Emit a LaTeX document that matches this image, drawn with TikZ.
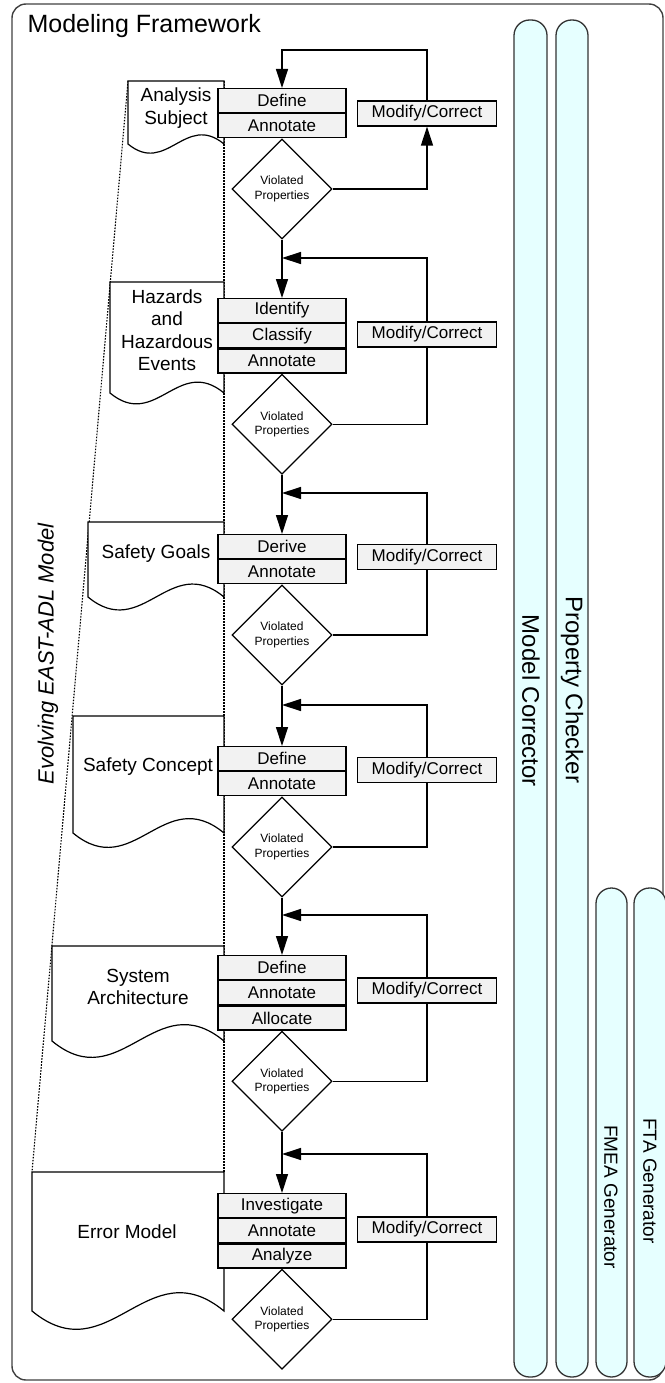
\documentclass[tikz,border=0pt]{standalone}
\usepackage{fontspec}
\setmainfont{Liberation Sans}
\usetikzlibrary{shapes.geometric,arrows.meta,calc}
\definecolor{boxfill}{HTML}{F2F2F2}
\definecolor{capfill}{HTML}{E6FFFF}
\definecolor{capline}{HTML}{333333}
\definecolor{frameline}{HTML}{404040}
\newcommand{\evdoc}[3]{%
  \pgfmathsetmacro\dw{224-#1}%
  \pgfmathsetmacro\dc{0.33*\dw}%
  \pgfmathsetmacro\dxa{#1+0.6*\dw}%
  \pgfmathsetmacro\dxb{#1+0.4*\dw}%
  \filldraw[docline] (#1,#2) -- (224,#2) -- (224,#3) .. controls (\dxa,#3-\dc) and (\dxb,#3+\dc) .. (#1,#3) -- cycle;}
\begin{document}
\begin{tikzpicture}[x=1pt,y=-1pt,
  flow/.style={line width=1.3pt, draw=black},
  arr/.style={flow, -{Triangle[length=19pt,width=12pt]}},
  stepbox/.style={draw, line width=1.2pt, fill=boxfill, minimum width=128pt, minimum height=24pt, inner sep=0pt, font=\fontsize{17}{20}\selectfont},
  modbox/.style={draw, line width=1.2pt, fill=boxfill, minimum width=139pt, minimum height=25pt, inner sep=0pt, font=\fontsize{17}{20}\selectfont},
  decision/.style={diamond, draw, line width=1.2pt, fill=white, minimum width=100pt, minimum height=100pt, inner sep=0pt, align=center, font=\fontsize{12}{14.5}\selectfont},
  doctext/.style={align=center, font=\fontsize{19}{22.5}\selectfont},
  docline/.style={draw=black, fill=white, line width=1.2pt},
  dotline/.style={draw=black, line width=1.1pt, dash pattern=on 1.6pt off 1.4pt},
  capsule/.style={draw=capline, fill=capfill, line width=1.3pt, rounded corners=15.5pt},
  captext/.style={rotate=-90, font=\fontsize{24}{28}\selectfont},
  smallcaptext/.style={rotate=-90, font=\fontsize{19}{23}\selectfont},
  frame/.style={draw=frameline, line width=1.4pt, rounded corners=14pt}]
\useasboundingbox (0,0) rectangle (664,1383);
% outer frame
\draw[frame] (12,4) rectangle (663,1380);
\node[anchor=base west, font=\fontsize{25}{30}\selectfont] (title) at (24,33) {Modeling Framework};
% capsules
\draw[capsule] (514,20) rectangle (547,1377);
\draw[capsule] (556,20) rectangle (588,1377);
\draw[capsule] (596,888) rectangle (627,1377);
\draw[capsule] (634,888) rectangle (666,1377);
\node[captext] (mc) at (531,701) {Model Corrector};
\node[captext] (pc) at (572,690) {Property Checker};
\node[smallcaptext] (fmea) at (611,1197) {FMEA Generator};
\node[smallcaptext] (fta) at (650,1181) {FTA Generator};
% evolving model outline
\coordinate (el1) at (128,81);
\coordinate (el2) at (32,1172);
\coordinate (er1) at (224,81);
\coordinate (er2) at (224,1172);
\draw[dotline] (el1) -- (el2);
\draw[dotline] (er1) -- (er2);
\node[rotate=90, font=\fontsize{22}{26}\selectfont\itshape] (evo) at (48,654) {Evolving EAST-ADL Model};
% documents
\evdoc{128}{81}{144}
\node[doctext] (tx1) at (176,108) {Analysis\\Subject};
\evdoc{110}{282}{393}
\node[doctext] (tx2) at (167,330) {Hazards\\and\\Hazardous\\Events};
\evdoc{88}{522}{597}
\node[doctext] (tx3) at (156,554) {Safety Goals};
\evdoc{73}{716}{833}
\node[doctext] (tx4) at (148,767) {Safety Concept};
\evdoc{52}{946}{1041}
\node[doctext] (tx5) at (138,987) {System\\Architecture};
\evdoc{32}{1172}{1311}
\node[doctext] (tx6) at (127,1232) {Error Model};
% stage 1
\node[stepbox, anchor=north] (s1a) at (282,88) {Define};
\node[stepbox, anchor=north] (s1b) at (s1a.south) {Annotate};
\node[decision, anchor=north] (d1) at (s1b.south) {Violated\\Properties};
\node[modbox] (m1) at (427,113.5) {Modify/Correct};
\coordinate (f1) at (282,50);
\draw[arr] (d1.east) -| (m1.south);
\draw[arr] (m1.north) |- (f1) -- (s1a.north);
% stage 2
\node[stepbox, anchor=north] (s2a) at (282,298) {Identify};
\node[stepbox, anchor=north] (s2b) at (s2a.south) {Classify};
\node[stepbox, anchor=north] (s2c) at (s2b.south) {Annotate};
\node[decision, anchor=north] (d2) at (s2c.south) {Violated\\Properties};
\node[modbox] (m2) at (427,334.5) {Modify/Correct};
\coordinate (f2) at (282,258);
\draw[arr] (d1.south) -- (s2a.north);
\draw[flow] (d2.east) -| (m2.south);
\draw[arr] (m2.north) |- (f2);
% stage 3
\node[stepbox, anchor=north] (s3a) at (282,534) {Derive};
\node[stepbox, anchor=north] (s3b) at (s3a.south) {Annotate};
\node[decision, anchor=north] (d3) at (s3b.south) {Violated\\Properties};
\node[modbox] (m3) at (427,557) {Modify/Correct};
\coordinate (f3) at (282,493);
\draw[arr] (d2.south) -- (s3a.north);
\draw[flow] (d3.east) -| (m3.south);
\draw[arr] (m3.north) |- (f3);
% stage 4
\node[stepbox, anchor=north] (s4a) at (282,746) {Define};
\node[stepbox, anchor=north] (s4b) at (s4a.south) {Annotate};
\node[decision, anchor=north] (d4) at (s4b.south) {Violated\\Properties};
\node[modbox] (m4) at (427,770) {Modify/Correct};
\coordinate (f4) at (282,705);
\draw[arr] (d3.south) -- (s4a.north);
\draw[flow] (d4.east) -| (m4.south);
\draw[arr] (m4.north) |- (f4);
% stage 5
\node[stepbox, anchor=north] (s5a) at (282,955) {Define};
\node[stepbox, anchor=north] (s5b) at (s5a.south) {Annotate};
\node[stepbox, anchor=north] (s5c) at (s5b.south) {Allocate};
\node[decision, anchor=north] (d5) at (s5c.south) {Violated\\Properties};
\node[modbox] (m5) at (427,990.5) {Modify/Correct};
\coordinate (f5) at (282,915);
\draw[arr] (d4.south) -- (s5a.north);
\draw[flow] (d5.east) -| (m5.south);
\draw[arr] (m5.north) |- (f5);
% stage 6
\node[stepbox, anchor=north] (s6a) at (282,1193) {Investigate};
\node[stepbox, anchor=north] (s6b) at (s6a.south) {Annotate};
\node[stepbox, anchor=north] (s6c) at (s6b.south) {Analyze};
\node[decision, anchor=north] (d6) at (s6c.south) {Violated\\Properties};
\node[modbox] (m6) at (427,1229.5) {Modify/Correct};
\coordinate (f6) at (282,1154);
\draw[arr] (d5.south) -- (s6a.north);
\draw[flow] (d6.east) -| (m6.south);
\draw[arr] (m6.north) |- (f6);
\end{tikzpicture}
\end{document}
